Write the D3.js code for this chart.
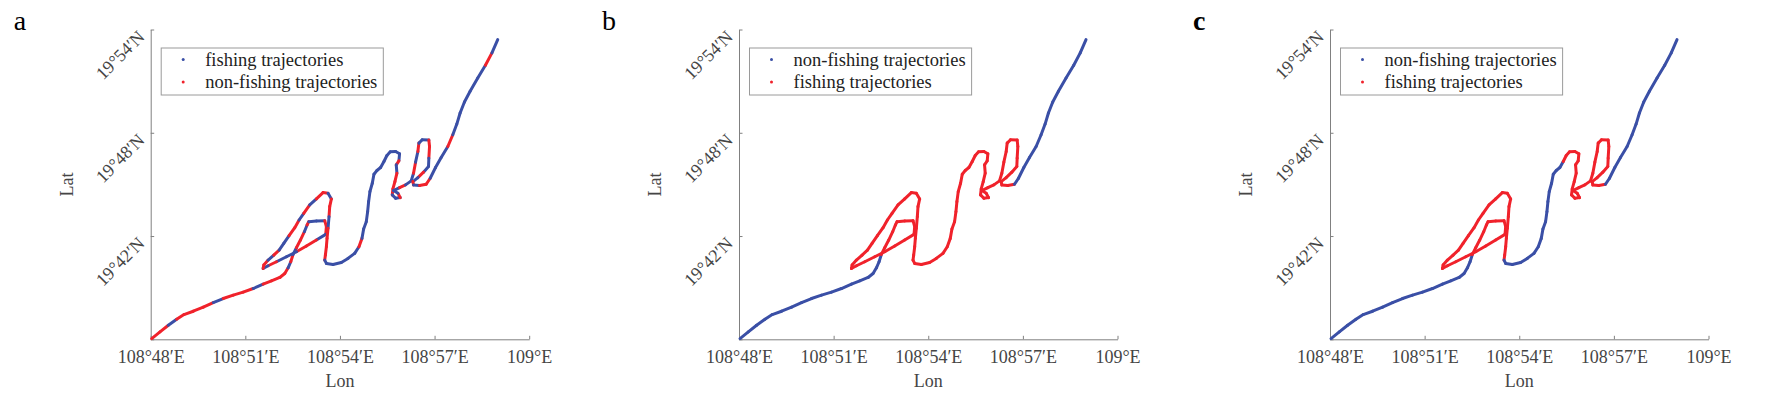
<!DOCTYPE html>
<html>
<head>
<meta charset="utf-8">
<script src="https://d3js.org/d3.v7.min.js"></script>
<style>
  body { margin: 0; background: #fff; }
  svg { display: block; font-family: "Liberation Serif", "Times New Roman", serif; }
</style>
</head>
<body>
<script>
// trajectory, arc-minutes east of 108°E / north of 19°N
const lonMin = [48.032, 48.295, 48.559, 48.823, 49.055, 49.350, 49.667, 49.983, 50.300, 50.616,
    50.932, 51.249, 51.565, 51.829, 52.093, 52.251, 52.357, 52.441, 52.515, 52.620,
    52.747, 52.873, 52.958, 53.011, 53.253, 53.517, 53.570, 53.549, 53.253, 52.937,
    52.620, 52.304, 51.987, 51.724, 51.565, 51.586, 51.724, 51.903, 52.072, 52.219,
    52.388, 52.568, 52.705, 52.852, 53.042, 53.253, 53.464, 53.622, 53.728, 53.675,
    53.654, 53.622, 53.591, 53.570, 53.538, 53.517, 53.570, 53.781, 54.044, 54.255,
    54.466, 54.603, 54.698, 54.751, 54.835, 54.878, 54.909, 54.951, 55.025, 55.078,
    55.173, 55.289, 55.395, 55.489, 55.595, 55.764, 55.890, 55.869, 55.785, 55.806,
    55.743, 55.679, 55.658, 55.764, 55.911, 55.838, 55.700, 55.890, 56.080, 56.259,
    56.333, 56.397, 56.471, 56.502, 56.608, 56.819, 56.840, 56.819, 56.808, 56.650,
    56.471, 56.312, 56.333, 56.523, 56.734, 56.861, 57.030, 57.209, 57.420, 57.578,
    57.705, 57.810, 57.947, 58.127, 58.369, 58.612, 58.819, 59.002];
const latMin = [36.039, 36.427, 36.816, 37.165, 37.437, 37.631, 37.864, 38.136, 38.369, 38.563,
    38.738, 38.951, 39.204, 39.398, 39.592, 39.825, 40.155, 40.505, 40.932, 41.320,
    41.767, 42.252, 42.641, 42.835, 42.874, 42.893, 42.544, 42.097, 41.767, 41.417,
    41.087, 40.796, 40.505, 40.272, 40.117, 40.311, 40.602, 40.893, 41.184, 41.573,
    42.019, 42.485, 42.932, 43.320, 43.806, 44.155, 44.524, 44.485, 44.155, 43.709,
    43.126, 42.447, 41.864, 41.379, 40.893, 40.602, 40.408, 40.350, 40.466, 40.699,
    40.990, 41.379, 41.864, 42.408, 42.835, 43.417, 44.000, 44.583, 45.068, 45.592,
    45.806, 45.981, 46.330, 46.680, 46.893, 46.913, 46.777, 46.369, 46.136, 45.650,
    45.165, 44.738, 44.388, 44.194, 44.233, 44.485, 44.641, 44.816, 44.971, 45.204,
    45.650, 46.291, 46.913, 47.398, 47.592, 47.573, 47.204, 46.524, 46.039, 45.709,
    45.398, 45.165, 44.971, 44.932, 45.010, 45.359, 45.981, 46.563, 47.204, 47.883,
    48.505, 49.146, 49.786, 50.408, 51.184, 51.922, 52.641, 53.417];

// class of each step between consecutive points: F = fishing, N = non-fishing
const labelsA = "NNFNNNNFNNNFNNNNFN" + "FNNFNFFNNFN" + "NFFNFNNFNFFNNFNFNNF" + "NNFNNNN" +
    "FFFFFFNFFFFFFFFFF" + "FFFFF" + "NFNNNF" + "FNFFN" + "FFNFNFFNNFFNFNFN" + "NFFFNFFFFFFNF";
const labelsB = "N".repeat(18) + "F".repeat(86) + "N".repeat(13);
const labelsC = "N".repeat(18) + "F".repeat(37) + "N".repeat(17) + "F".repeat(32) + "N".repeat(13);

const xTicks = [48, 51, 54, 57, 60];
const xTickLabels = ["108°48′E", "108°51′E", "108°54′E", "108°57′E", "109°E"];
const yTicks = [36, 42, 48, 54];
const yTickLabels = ["", "19°42′N", "19°48′N", "19°54′N"];

const panelNames = ["a", "b", "c"];
const panelLabels = [labelsA, labelsB, labelsC];
const legendNames = [
    ["fishing trajectories", "non-fishing trajectories"],
    ["non-fishing trajectories", "fishing trajectories"],
    ["non-fishing trajectories", "fishing trajectories"]
];
const classNames = { F: "fishing trajectories", N: "non-fishing trajectories" };

function init() {
    var W = 1772, H = 393;
    var left = [150.7, 739, 1330];
    var plotW = 378.5;
    var top = 29.5, bottom = 339.3;
    var colors = ["#3a4fa6", "#f0222b"];
    var axisColor = "#808080";
    var textColor = "#454545";
    var serif = "Liberation Serif, Times New Roman, serif";

    var svg = d3.select("body").append("svg")
        .attr("width", W)
        .attr("height", H);

    svg.append("rect").attr("width", W).attr("height", H).attr("fill", "#fff");

    var y = d3.scaleLinear().domain([36, 54]).range([bottom, top]);

    panelNames.forEach(function(name, p) {
        var x0 = left[p];
        var x = d3.scaleLinear().domain([48, 60]).range([x0, x0 + plotW]);
        var g = svg.append("g");

        // panel letter
        svg.append("text")
            .attr("x", x0 - 137)
            .attr("y", 30)
            .attr("font-size", 28)
            .attr("font-weight", name == "c" ? "bold" : "normal")
            .attr("fill", "#000")
            .text(name);

        // x axis
        var xAxis = g.append("g")
            .attr("transform", "translate(0," + bottom + ")")
            .call(d3.axisBottom(x)
                .tickValues(xTicks)
                .tickSizeInner(-3.5)
                .tickSizeOuter(0)
                .tickPadding(11)
                .tickFormat(function(d, i) { return xTickLabels[i]; }));
        xAxis.select(".domain").attr("stroke", axisColor);
        xAxis.selectAll(".tick line").attr("stroke", axisColor);
        xAxis.selectAll(".tick text")
            .attr("fill", textColor)
            .attr("font-size", 18)
            .attr("font-family", serif);

        // y axis
        var yAxis = g.append("g")
            .attr("transform", "translate(" + x0 + ",0)")
            .call(d3.axisLeft(y)
                .tickValues(yTicks)
                .tickSizeInner(-3.5)
                .tickSizeOuter(0)
                .tickFormat(function(d, i) { return yTickLabels[i]; }));
        yAxis.select(".domain").attr("stroke", axisColor);
        yAxis.selectAll(".tick line").attr("stroke", axisColor);
        yAxis.selectAll(".tick text")
            .attr("x", null)
            .attr("dy", null)
            .attr("text-anchor", "end")
            .attr("transform", "translate(-5,8) rotate(-45)")
            .attr("fill", textColor)
            .attr("font-size", 18)
            .attr("font-family", serif);

        // axis titles
        g.append("text")
            .attr("x", x0 + plotW / 2)
            .attr("y", 387)
            .attr("text-anchor", "middle")
            .attr("font-size", 18)
            .attr("fill", textColor)
            .text("Lon");
        g.append("text")
            .attr("transform", "translate(" + (x0 - 78) + "," + ((top + bottom) / 2) + ") rotate(-90)")
            .attr("text-anchor", "middle")
            .attr("font-size", 18)
            .attr("fill", textColor)
            .text("Lat");

        // trajectory, one step per segment
        var labels = panelLabels[p];
        var steps = d3.range(lonMin.length - 1).map(function(i) {
            return { i: i, cls: classNames[labels[i]] };
        });
        var color = function(cls) { return colors[legendNames[p].indexOf(cls)]; };

        g.append("g").selectAll("line")
            .data(steps)
            .enter()
            .append("line")
            .attr("x1", function(d) { return x(lonMin[d.i]); })
            .attr("y1", function(d) { return y(latMin[d.i]); })
            .attr("x2", function(d) { return x(lonMin[d.i + 1]); })
            .attr("y2", function(d) { return y(latMin[d.i + 1]); })
            .attr("stroke", function(d) { return color(d.cls); })
            .attr("stroke-width", 3)
            .attr("stroke-linecap", "round");

        // legend
        var lg = g.append("g").attr("transform", "translate(" + (x0 + 10.5) + ",48)");
        var box = lg.append("rect")
            .attr("height", 47)
            .attr("fill", "#fff")
            .attr("stroke", "#9a9a9a")
            .attr("stroke-width", 1);
        var rows = lg.selectAll("g.row")
            .data(legendNames[p])
            .enter()
            .append("g")
            .attr("class", "row")
            .attr("transform", function(d, i) { return "translate(0," + (11.5 + i * 22.5) + ")"; });
        rows.append("circle")
            .attr("cx", 22)
            .attr("r", 1.5)
            .attr("fill", function(d, i) { return colors[i]; });
        rows.append("text")
            .attr("x", 44)
            .attr("y", 6)
            .attr("font-size", 18.5)
            .attr("fill", "#222")
            .text(function(d) { return d; });
        var maxW = d3.max(rows.selectAll("text").nodes(), function(n) { return n.getComputedTextLength(); });
        box.attr("width", 44 + maxW + 6);
    });
}
window.onload = init;
</script>
</body>
</html>
